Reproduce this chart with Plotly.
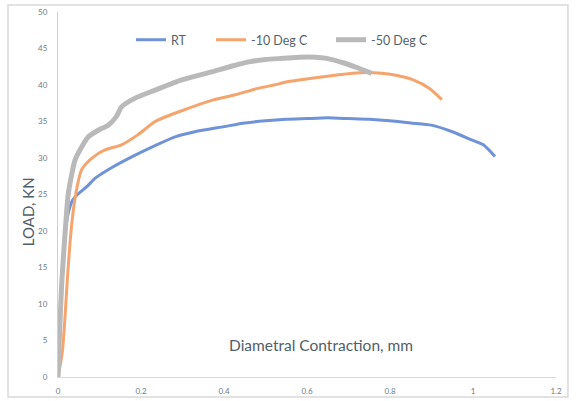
import plotly.graph_objects as go

# RT series
rt_x = [0, 0.001, 0.005, 0.009, 0.017, 0.025, 0.035, 0.045, 0.07, 0.089, 0.13, 0.186, 0.23,
        0.282, 0.33, 0.4, 0.45, 0.5, 0.55, 0.6, 0.65, 0.7, 0.75, 0.8, 0.85, 0.9, 0.95, 1.0, 1.025, 1.053]
rt_y = [0, 3.7, 8.5, 12.9, 19.7, 22.5, 24.2, 24.9, 26.1, 27.2, 28.7, 30.4, 31.6,
        32.9, 33.6, 34.3, 34.8, 35.1, 35.3, 35.4, 35.5, 35.4, 35.3, 35.1, 34.8, 34.5, 33.6, 32.4, 31.8, 30.2]

# -10 Deg C series
m10_x = [0, 0.005, 0.011, 0.017, 0.022, 0.031, 0.041, 0.057, 0.081, 0.113, 0.153, 0.193, 0.234,
         0.29, 0.37, 0.43, 0.479, 0.52, 0.559, 0.607, 0.663, 0.71,
         0.744, 0.78, 0.808, 0.856, 0.896, 0.925]
m10_y = [0, 1.5, 3.7, 8.3, 12.9, 19.7, 24.5, 28.4, 29.95, 31.1, 31.8, 33.2, 35.0,
         36.3, 37.9, 38.7, 39.5, 40.0, 40.5, 40.9, 41.3, 41.6,
         41.7, 41.6, 41.4, 40.7, 39.5, 38.0]

# -50 Deg C series
m50_x = [0, 0.003, 0.009, 0.017, 0.025, 0.041, 0.057, 0.073, 0.097, 0.121, 0.141, 0.153, 0.186,
         0.234, 0.298, 0.37, 0.42, 0.463, 0.5, 0.543, 0.583, 0.62, 0.647, 0.687, 0.72, 0.756]
m50_y = [0, 5, 12.9, 19.7, 25.2, 29.7, 31.5, 32.9, 33.8, 34.5, 35.7, 37.0, 38.2,
         39.3, 40.7, 41.8, 42.6, 43.2, 43.5, 43.65, 43.8, 43.8, 43.65, 43.05, 42.4, 41.6]

x_ticks = [0, 0.2, 0.4, 0.6, 0.8, 1, 1.2]
y_ticks = [0, 5, 10, 15, 20, 25, 30, 35, 40, 45, 50]

FONT = "Lato"
TICK_COLOR = "#6a7c88"

fig = go.Figure()
fig.add_trace(go.Scatter(x=rt_x, y=rt_y, mode="lines", name="RT", legend="legend",
                         line=dict(color="#6f93d6", width=3, shape="spline", smoothing=0.6)))
fig.add_trace(go.Scatter(x=m10_x, y=m10_y, mode="lines", name="-10 Deg C", legend="legend2",
                         line=dict(color="#f4a46c", width=3, shape="spline", smoothing=0.6)))
fig.add_trace(go.Scatter(x=m50_x, y=m50_y, mode="lines", name="-50 Deg C", legend="legend3",
                         line=dict(color="#b9b9b9", width=5, shape="spline", smoothing=0.6)))

def leg(xpos):
    return dict(orientation="h", x=xpos, y=0.923, xanchor="left", yanchor="middle",
                font=dict(size=12.5, color="#55636d", family=FONT), bgcolor="rgba(0,0,0,0)")

fig.update_layout(
    width=576, height=401,
    margin=dict(l=58, r=20, t=12, b=24, autoexpand=False),
    paper_bgcolor="white", plot_bgcolor="white",
    font=dict(family=FONT, color="#4f5f6a"),
    showlegend=True,
    legend=leg(0.1466), legend2=leg(0.3072), legend3=leg(0.5482),
    xaxis=dict(range=[0, 1.2], tickvals=x_ticks, ticktext=[str(v) for v in x_ticks],
               showgrid=False, zeroline=False, showline=True, linecolor="#d3dbe0", linewidth=1,
               tickfont=dict(size=8, color=TICK_COLOR), ticks="", ticklabelstandoff=6,
               automargin=False),
    yaxis=dict(range=[0, 50], tickvals=y_ticks, showgrid=False, zeroline=False,
               showline=True, linecolor="#cfcfcf", linewidth=1,
               tickfont=dict(size=8, color=TICK_COLOR), ticks="", ticklabelstandoff=8,
               automargin=False),
    annotations=[
        dict(text="LOAD, KN", xref="paper", yref="paper", x=-0.060, y=0.452,
             xanchor="center", yanchor="middle",
             textangle=-90, showarrow=False, font=dict(size=15, color="#50606a", family=FONT)),
        dict(text="Diametral Contraction, mm", xref="paper", yref="paper", x=0.528, y=0.088,
             xanchor="center", yanchor="middle",
             showarrow=False, font=dict(size=15.5, color="#50606a", family=FONT)),
    ],
    shapes=[
        dict(type="rect", xref="paper", yref="paper", x0=-0.1004, x1=1.024, y0=-0.0548, y1=1.019,
             line=dict(color="#d9d9d9", width=1.5), fillcolor="rgba(0,0,0,0)", layer="below"),
    ],
)

fig.write_html("out.html", config={"displayModeBar": False},
               post_script="document.body.style.margin='0';document.body.style.overflow='hidden';")
